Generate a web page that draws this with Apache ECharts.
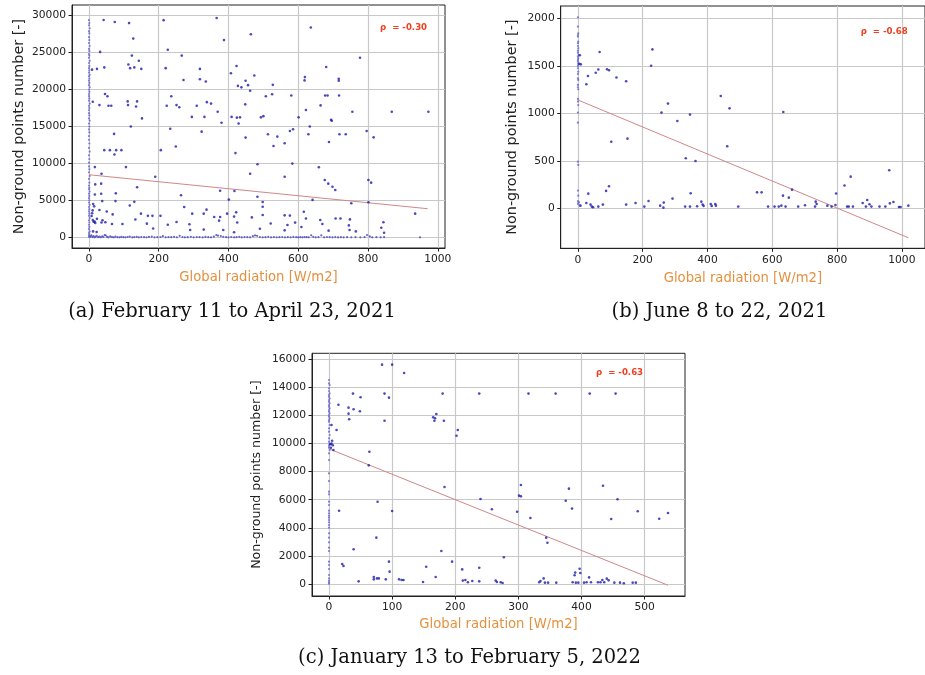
<!DOCTYPE html>
<html>
<head>
<meta charset="utf-8">
<script src="https://cdn.jsdelivr.net/npm/echarts@6/dist/echarts.min.js"></script>
<style>
html,body{margin:0;padding:0;background:#fff}
#chart{width:925px;height:675px}
</style>
</head>
<body>
<div id="chart"></div>
<script>
// ---------- (a) February 11 to April 23, 2021 ----------
const febTicksX = [0, 200, 400, 600, 800, 1000];
const febTicksY = [0, 5000, 10000, 15000, 20000, 25000, 30000];
const febRho = '\u03c1  = -0.30';
const febFit = [[0, 8470], [971, 3870]];
// night-time samples (radiation ~ 0)
const febColumn = [[0,29400],[1,29000],[0,28700],[2,28300],[0,27900],[1,27600],[0,27100],[1,26700],[0,26300],[2,25900],[0,25500],[1,25200],[0,24800],[1,24600],[0,24300],[2,23900],[0,23600],[1,23200],[0,22900],[1,22600],[0,22300],[2,22000],[0,21800],[1,21500],[0,21200],[1,20900],[0,20600],[2,20300],[0,20000],[1,19700],[0,19400],[0,19100],[1,18800],[0,18500],[2,18100],[0,17800],[1,17500],[0,17200],[0,16800],[1,16500],[0,16100],[2,15800],[0,15400],[1,15000],[0,14600],[1,14200],[0,13700],[0,13200],[1,12700],[0,12100],[2,11600],[0,11100],[1,10600],[0,10100],[0,9600],[1,9200],[0,8800],[2,8300],[0,7900],[1,7400],[0,7000],[1,6700],[0,6500],[2,6200],[0,5900],[1,5600],[0,5300],[1,5000],[0,4700],[2,4400],[0,4100],[1,3800],[0,3500],[1,3200],[0,2900],[2,2600],[0,2300],[1,2000],[0,1700],[1,1400],[0,1100],[2,800],[0,600],[1,400],[0,250],[3,100],[0,50]];
// samples with almost no non-ground points
const febFloor = [[4,80],[7,250],[10,30],[13,150],[16,0],[19,60],[22,200],[26,20],[30,90],[34,0],[38,140],[41,40],[45,300],[48,260],[52,60],[56,0],[61,120],[66,30],[71,0],[76,80],[82,20],[88,0],[93,60],[99,10],[105,0],[111,40],[117,100],[124,0],[130,20],[137,60],[143,0],[150,30],[158,10],[165,0],[172,50],[180,90],[188,0],[196,20],[205,40],[212,150],[220,0],[228,30],[236,10],[244,60],[252,0],[260,200],[268,40],[275,0],[283,20],[292,60],[300,0],[309,30],[317,10],[326,0],[334,50],[342,20],[350,0],[358,80],[365,300],[370,220],[378,160],[385,60],[393,10],[400,0],[408,40],[416,0],[423,20],[431,60],[438,0],[446,30],[454,10],[462,0],[470,150],[476,250],[482,200],[490,40],[498,0],[506,20],[514,60],[522,0],[530,30],[538,0],[546,10],[554,40],[562,0],[570,20],[578,0],[586,50],[594,10],[600,0],[606,20],[612,0],[618,30],[624,10],[630,0],[637,260],[643,60],[650,0],[658,20],[666,250],[674,0],[682,40],[690,10],[698,0],[706,30],[714,0],[722,20],[730,0],[740,10],[752,0],[764,30],[778,0],[790,20],[797,300],[805,120],[812,0],[824,20],[836,0],[846,10],[949,0]];
const febSpread = [[42,29420],[74,29140],[115,29000],[214,29400],[366,29700],[464,27480],[636,28400],[127,26900],[387,26700],
[32,25100],[226,25400],[123,24600],[266,24600],[777,24310],
[113,23400],[143,23900],[118,22900],[130,23000],[150,22800],[23,22800],[9,22700],[44,23000],[220,22900],[318,22800],[423,23200],[407,22200],[474,21900],[318,21400],[271,21300],[335,21100],[449,21200],[456,20600],[618,21240],[619,21690],[427,20500],[437,20300],[462,19840],[527,20640],[680,23050],[716,21460],[716,21200],
[525,19370],[507,19100],[580,19200],[677,19200],[684,19200],[717,19200],[46,19400],[53,19100],[236,19100],
[11,18350],[111,18400],[138,18400],[338,18300],[350,18100],[30,17900],[56,17800],[64,17800],[112,17900],[135,17700],[223,17800],[251,17900],[259,17600],[309,17800],[448,18000],[664,17860],[622,17230],
[369,17000],[755,17000],[868,17000],[973,17000],[380,15500],[429,15400],[152,16100],[295,16300],[331,16300],[409,16300],[424,16200],[433,16240],[493,16240],[500,16400],[601,16240],[694,15900],[696,15770],
[323,14300],[233,14700],[120,15000],[633,14990],[576,14400],[585,14630],[796,14400],[72,14000],[513,13950],[540,13630],[629,13950],[718,13950],[736,13950],[816,13530],[449,13500],[561,12730],[529,12370],[249,12300],[688,12900],
[44,11800],[60,11800],[73,11200],[78,11800],[93,11800],[206,11800],[420,11400],
[583,9980],[483,9890],[659,9480],[17,9500],[106,9500],[190,8200],[561,8200],[462,8600],[36,8600],
[801,7760],[809,7400],[676,7760],[686,7260],[698,6850],[706,6400],[35,7260],[138,6770],[376,6300],[417,6270],[264,5690],[483,5490],[77,5950],[35,5900],[752,4600],[801,4740],[641,5060],[498,4780],[498,4140],[401,5100],
[12,4500],[38,4900],[76,4900],[130,4800],[117,4300],[337,3740],[273,4100],[30,3700],[51,3500],[68,3100],[133,2400],[149,3200],[205,2900],[169,2900],[182,2900],[296,3200],[329,3200],[359,2750],[376,2750],[396,3200],[373,2250],[416,2800],[422,3380],[425,2000],[467,2690],[498,3020],[521,1860],[561,2970],[576,2940],[591,1990],[616,3460],[622,2550],[663,2340],[669,1800],[707,2550],[721,2550],[748,2420],[745,1610],[844,2030],[838,1300],[935,3200],
[39,2300],[23,2500],[36,2000],[47,2030],[66,1800],[96,1800],[166,1850],[226,1700],[251,2070],[288,1760],[329,1040],[385,990],[490,1160],[561,940],[569,1670],[609,1400],[687,900],[747,980],[765,800],[846,620],[22,720],[290,990],[416,680],[184,1200],
[7.6,2880],[9,3250],[11,2330],[13.5,2100],[16,2140],[18,1950],[10.5,3640],[15,4190],[17,5800],[18,7160],[11.8,800]];

// ---------- (b) June 8 to 22, 2021 ----------
const junTicksX = [0, 200, 400, 600, 800, 1000];
const junTicksY = [0, 500, 1000, 1500, 2000];
const junRho = '\u03c1  = -0.68';
const junFit = [[0, 1140], [1020, -310]];
const junColumn = [[0,2010],[0,1912],[1,1842],[0,1824],[0,1807],[1,1754],[0,1737],[0,1708],[1,1684],[0,1659],[0,1638],[2,1614],[0,1596],[1,1579],[0,1561],[0,1543],[1,1519],[0,1498],[0,1474],[1,1438],[0,1413],[0,1368],[1,1351],[0,1298],[0,1274],[1,1253],[0,1151],[0,1123],[1,1087],[0,1007],[0,901],[0,491],[1,456],[0,186],[1,133],[0,77],[2,59],[0,45],[3,64],[5,30]];
const junSpread = [[6,1610],[4,1520],[9,1515],[26,1305],[31,1393],[55,1427],[63,1460],[67,1645],[90,1463],[96,1453],[119,1376],[149,1337],[230,1672],[226,1500],[258,1007],[278,1102],[307,919],[346,986],[441,1182],[468,1052],[461,653],[634,1014],[103,701],[153,733],[333,526],[363,498],
[32,154],[26,56],[8,28],[39,39],[43,18],[47,11],[63,18],[77,39],[87,183],[96,232],[149,39],[178,56],[205,18],[218,77],[254,28],[265,60],[264,7],[292,102],[331,18],[346,18],[348,158],[368,21],[381,70],[385,39],[388,25],[410,46],[413,25],[424,46],[426,28],[495,18],[553,168],[567,168],[587,18],[607,18],[620,18],[628,28],[633,133],[641,18],[651,112],[661,196],[680,18],[701,32],[732,18],[734,70],[737,46],[770,28],[783,18],[795,35],[797,155],[823,240],[842,333],[831,18],[836,18],[849,18],[879,55],[889,18],[893,88],[900,42],[906,18],[931,18],[949,18],[961,400],[963,52],[974,66],[991,14],[996,14],[1020,28]];

// ---------- (c) January 13 to February 5, 2022 ----------
const janTicksX = [0, 100, 200, 300, 400, 500];
const janTicksY = [0, 2000, 4000, 6000, 8000, 10000, 12000, 14000, 16000];
const janRho = '\u03c1  = -0.63';
const janFit = [[2, 9590], [537, -90]];
const janColumn = [[0,14528],[0,14290],[1,14172],[0,13934],[0,13745],[1,13578],[0,13460],[0,13341],[1,13222],[0,13104],[0,12985],[1,12866],[0,12748],[0,12629],[1,12510],[0,12391],[0,12273],[1,12154],[0,12035],[0,11917],[1,11798],[0,11679],[0,11560],[1,11323],[0,11086],[0,10848],[1,10611],[0,10374],[0,10136],[1,9994],[0,9852],[0,9709],[1,9543],[0,9306],[0,8831],[0,7881],[0,7335],[0,6576],[0,6386],[0,5863],[0,5626],[0,5222],[0,5032],[0,4866],[0,4724],[0,4558],[0,4392],[0,4202],[0,4012],[0,3608],[0,3300],[0,2967],[0,2588],[0,2350],[0,1590],[0,1353],[0,1068],[0,641],[0,404],[0,237],[0,119],[0,24]];
const janSpread = [[84,15620],[100,15620],[119,15030],[38,13560],[88,13560],[180,13560],[238,13560],[316,13560],[359,13560],[413,13560],[454,13560],[50,13300],[95,13270],[15,12770],[31,12560],[39,12440],[31,12130],[49,12300],[32,11730],[88,11630],[165,11870],[170,12110],[167,11630],[168,11800],[182,11630],[12,10970],[204,10970],[202,10560],[64,9420],[63,8450],[183,6910],[240,6050],[258,5320],[304,7050],[301,6290],[304,6240],[298,5150],[319,4700],[380,6790],[375,5930],[385,5370],[434,7000],[457,6030],[447,4630],[489,5180],[523,4650],[537,5060],[16,5220],[77,5860],[100,5200],[75,3300],[39,2470],[178,2350],[344,3300],[346,2940],[277,1900],[195,1590],[95,1590],[21,1420],[23,1280],[154,1230],[211,1040],[238,1160],[96,880],[397,1090],[390,810],[389,620],[398,780],
[47,190],[71,500],[71,330],[76,400],[79,400],[90,330],[111,330],[115,285],[118,285],[149,140],[169,500],[212,240],[216,285],[220,120],[227,210],[238,190],[264,240],[266,140],[272,120],[275,70],[333,120],[335,210],[340,400],[342,95],[347,95],[360,95],[386,120],[391,95],[395,95],[404,95],[408,120],[412,470],[415,120],[426,120],[430,120],[433,285],[436,120],[440,380],[443,260],[452,95],[461,95],[467,50],[481,95],[486,95],
[4,10000],[6,9880],[3,9700],[7,9540],[4,11320],[5,10200],[2,9950]];

const X_NAME = 'Global radiation [W/m2]';
const Y_NAME = 'Non-ground points number [-]';

const INK = '#222222';
const GRID_LINE = '#c8c8c8';
const DOT = '#1d1dab';
const DOT_COLUMN = '#6464cc';
const FIT = '#cf8888';
const RHO = '#ee4020';
const XLABEL = '#e3913e';

const plain = v => String(v);

const panels = [
  { grid: {left: 72, top: 5, width: 373, height: 243},
    x: [-48.6, 1020.6], y: [-1450, 31450], tx: febTicksX, ty: febTicksY,
    yNameSize: 14.4, yNameGap: 46, xNameGap: 23,
    column: febColumn, floor: febFloor, spread: febSpread, fit: febFit },
  { grid: {left: 560.7, top: 6, width: 373, height: 242.3},
    x: [-53.1, 1071.4], y: [-421, 2129], tx: junTicksX, ty: junTicksY,
    yNameSize: 14.4, yNameGap: 41, xNameGap: 23.4,
    column: junColumn, floor: [], spread: junSpread, fit: junFit },
  { grid: {left: 312, top: 353.3, width: 373, height: 242.7},
    x: [-26.9, 563.9], y: [-855, 16429], tx: janTicksX, ty: janTicksY,
    yNameSize: 12.6, yNameGap: 49, xNameGap: 22.4,
    column: janColumn, floor: [], spread: janSpread, fit: janFit }
];

const grids = [], xAxes = [], yAxes = [], series = [];
panels.forEach((p, i) => {
  grids.push(Object.assign({show: true, borderColor: INK, borderWidth: 1, backgroundColor: '#fff', containLabel: false}, p.grid));
  xAxes.push({
    gridIndex: i, type: 'value', min: p.x[0], max: p.x[1],
    name: X_NAME, nameLocation: 'middle', nameGap: p.xNameGap,
    nameTextStyle: {color: XLABEL, fontSize: 13.2, fontFamily: 'DejaVu Sans'},
    axisLine: {show: true, onZero: false, lineStyle: {color: INK, width: 1}},
    axisTick: {show: true, length: 3.5, customValues: p.tx, lineStyle: {color: INK, width: 1}},
    axisLabel: {customValues: p.tx, formatter: plain, color: INK, fontSize: 10.7, fontFamily: 'DejaVu Sans', margin: 6},
    splitLine: {show: true, lineStyle: {color: GRID_LINE, width: 1.2}}
  });
  yAxes.push({
    gridIndex: i, type: 'value', min: p.y[0], max: p.y[1],
    name: Y_NAME, nameLocation: 'middle', nameGap: p.yNameGap, nameRotate: 90,
    nameTextStyle: {color: INK, fontSize: p.yNameSize, fontFamily: 'DejaVu Sans'},
    axisLine: {show: true, onZero: false, lineStyle: {color: INK, width: 1}},
    axisTick: {show: true, length: 3.5, customValues: p.ty, lineStyle: {color: INK, width: 1}},
    axisLabel: {customValues: p.ty, formatter: plain, color: INK, fontSize: 10.7, fontFamily: 'DejaVu Sans', margin: 6},
    splitLine: {show: true, lineStyle: {color: GRID_LINE, width: 1.2}}
  });
  series.push({
    type: 'line', xAxisIndex: i, yAxisIndex: i, data: p.fit, showSymbol: false, silent: true,
    lineStyle: {color: FIT, width: 1}, z: 3
  });
  series.push({
    type: 'scatter', xAxisIndex: i, yAxisIndex: i, data: p.column, symbol: 'circle', symbolSize: 2.2,
    itemStyle: {color: DOT_COLUMN}, silent: true, z: 4
  });
  series.push({
    type: 'scatter', xAxisIndex: i, yAxisIndex: i, data: p.floor, symbol: 'circle', symbolSize: 2.2,
    itemStyle: {color: '#4444bb'}, silent: true, z: 4
  });
  series.push({
    type: 'scatter', xAxisIndex: i, yAxisIndex: i, data: p.spread, symbol: 'circle', symbolSize: 2.6,
    itemStyle: {color: DOT}, silent: true, z: 5
  });
});

function text(str, x, y, font, fill, align) {
  return {
    type: 'text', x: x, y: y, z: 100, silent: true,
    style: {text: str, font: font, fill: fill, align: align, textAlign: align, verticalAlign: 'middle', textVerticalAlign: 'middle'}
  };
}

const CAPTION_FONT = '19.5px "DejaVu Serif", serif';
const RHO_FONT = 'bold 8.6px "DejaVu Sans", sans-serif';

const chart = echarts.init(document.getElementById('chart'), null, {renderer: 'canvas'});
chart.setOption({
  animation: false,
  backgroundColor: '#fff',
  grid: grids,
  xAxis: xAxes,
  yAxis: yAxes,
  series: series,
  graphic: [
    text(febRho, 380, 27.5, RHO_FONT, RHO, 'left'),
    text(junRho, 860.7, 32, RHO_FONT, RHO, 'left'),
    text(janRho, 596, 372.7, RHO_FONT, RHO, 'left'),
    text('(a) February 11 to April 23, 2021', 232, 311.7, CAPTION_FONT, '#111', 'center'),
    text('(b) June 8 to 22, 2021', 719.5, 311.7, CAPTION_FONT, '#111', 'center'),
    text('(c) January 13 to February 5, 2022', 469.5, 658, CAPTION_FONT, '#111', 'center')
  ]
});
</script>
</body>
</html>
